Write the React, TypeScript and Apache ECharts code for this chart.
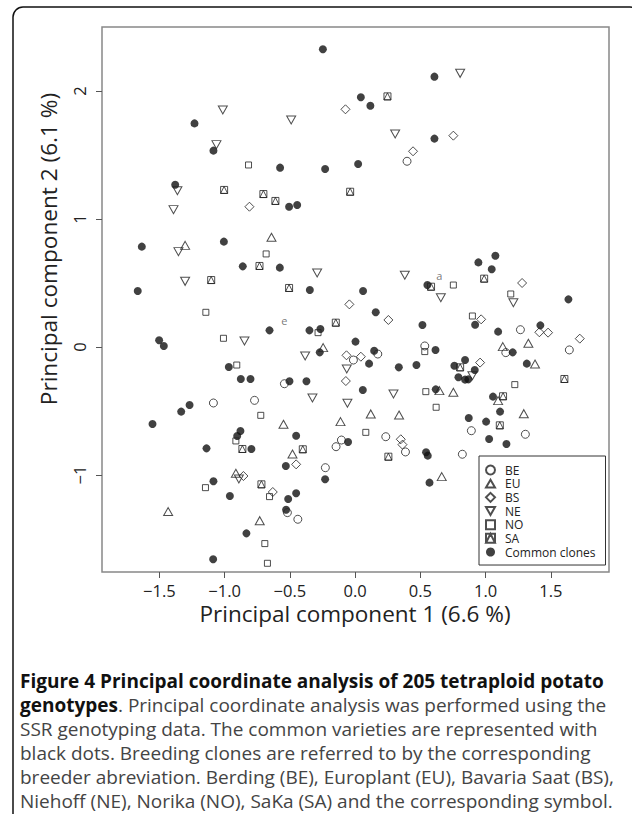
import React, { useEffect, useRef } from "react";
import * as echarts from "echarts";

type P = [number, number];

const xTicks = [-1.5, -1.0, -0.5, 0.0, 0.5, 1.0, 1.5];
const yTicks = [-1, 0, 1, 2];

const groupNames = ["BE", "EU", "BS", "NE", "NO", "SA", "Common clones"];

const beData: P[] = [
  [0.398, 1.451], [-0.542, -0.287], [-1.086, -0.4375], [-0.771, -0.417], [-0.105, -0.727],
  [-0.146, -0.779], [-0.228, -0.943], [-0.519, -1.294], [-0.439, -1.346], [1.267, 0.135],
  [1.642, -0.023], [0.534, 0.008], [1.155, -0.044], [0.174, -0.055], [-0.013, -0.102],
  [0.891, -0.654], [1.305, -0.682], [0.235, -0.701], [0.386, -0.82], [0.822, -0.838],
];
const euData: P[] = [
  [-1.303, 0.794], [-0.641, 0.857], [-0.245, -0.005], [-0.549, -0.604], [-0.112, -0.583],
  [-0.48, -0.836], [-0.914, -0.987], [-1.433, -1.286], [-0.731, -1.357], [1.132, 0.003],
  [1.328, 0.029], [1.379, -0.133], [0.646, -0.341], [0.753, -0.354], [1.096, -0.419],
  [0.12, -0.523], [0.337, -0.531], [1.293, -0.521], [0.664, -1.013],
];
const bsData: P[] = [
  [-0.074, 1.857], [0.753, 1.651], [0.444, 1.529], [-0.81, 1.096], [1.28, 0.5],
  [-0.044, 0.333], [-0.066, -0.065], [-0.071, -0.266], [-0.452, -0.917], [-0.856, -1.008],
  [-0.631, -1.133], [0.255, 0.211], [0.966, 0.216], [1.412, 0.115], [1.479, 0.112],
  [1.722, 0.065], [0.044, -0.076], [0.958, -0.122], [0.35, -0.721], [0.363, -0.763],
];
const neData: P[] = [
  [-1.014, 1.852], [-0.49, 1.773], [-1.063, 1.581], [-1.362, 1.221], [-1.392, 1.073],
  [-1.354, 0.745], [-0.291, 0.578], [-1.303, 0.513], [0.805, 2.138], [0.307, 1.664],
  [0.381, 0.56], [0.657, 0.385], [1.213, 0.346], [-0.848, 0.047], [-0.383, -0.07],
  [-0.064, -0.172], [-0.327, -0.398], [-0.059, -0.44], [-0.891, -1.031], [0.899, -0.224],
  [0.294, -0.367],
];
const noData: P[] = [
  [-0.817, 1.422], [-0.682, 0.727], [0.753, 0.484], [1.193, 0.414], [-1.144, 0.271],
  [-0.284, 0.112], [-1.009, 0.068], [-0.907, -0.141], [-0.723, -0.534], [-0.914, -0.734],
  [-1.147, -1.099], [-0.656, -1.169], [-0.692, -1.536], [-0.672, -1.69], [0.899, 0.242],
  [0.534, -0.036], [1.224, -0.294], [0.542, -0.349], [0.621, -0.471], [0.082, -0.667],
];
const saData: P[] = [
  [-1.004, 1.227], [-0.703, 1.195], [-0.611, 1.141], [-0.038, 1.213], [-0.733, 0.633],
  [-1.103, 0.523], [-0.506, 0.461], [0.248, 1.958], [0.989, 0.534], [0.582, 0.471],
  [-0.148, 0.19], [-0.864, -0.797], [-0.401, -0.799], [-0.718, -1.073], [0.805, -0.159],
  [1.604, -0.25], [1.134, -0.385], [1.109, -0.612], [0.255, -0.857],
];
const commonData: P[] = [
  [-0.247, 2.326], [-1.231, 1.747], [-1.086, 1.534], [-0.575, 1.401], [-0.23, 1.39],
  [-1.379, 1.268], [-0.506, 1.096], [-0.444, 1.109], [-1.635, 0.784], [-1.006, 0.823],
  [-0.861, 0.63], [-0.577, 0.62], [-0.347, 0.445], [-1.666, 0.4375], [0.608, 2.112],
  [0.044, 1.951], [0.117, 1.885], [0.608, 1.628], [0.023, 1.43], [1.075, 0.713],
  [0.945, 0.661], [1.047, 0.607], [0.554, 0.484], [0.061, 0.4375], [1.635, 0.372],
  [-0.656, 0.13], [-0.35, 0.13], [-0.266, 0.141], [-1.502, 0.052], [-1.466, 0.008],
  [-0.271, -0.042], [-0.968, -0.156], [-0.876, -0.25], [-0.802, -0.25], [-0.503, -0.268],
  [-0.373, -0.268], [-1.269, -0.453], [-1.333, -0.505], [-1.553, -0.602], [-0.879, -0.656],
  [-0.904, -0.695], [-0.452, -0.693], [-0.054, -0.742], [-1.139, -0.792], [-0.795, -0.797],
  [-0.531, -0.93], [-0.23, -1.034], [-1.086, -1.049], [-0.96, -1.164], [-0.452, -1.143],
  [-0.513, -1.188], [-0.529, -1.271], [-0.833, -1.456], [-1.088, -1.659], [0.158, 0.271],
  [0.516, 0.172], [0.92, 0.174], [1.096, 0.12], [1.42, 0.169], [0.003, 0.042],
  [0.616, -0.023], [1.208, -0.042], [0.146, -0.029], [0.107, -0.13], [0.335, -0.159],
  [0.47, -0.141], [0.761, -0.146], [0.843, -0.102], [0.917, -0.18], [0.792, -0.237],
  [0.843, -0.255], [0.868, -0.253], [1.316, -0.13], [0.059, -0.336], [0.618, -0.331],
  [1.057, -0.388], [1.111, -0.505], [0.871, -0.555], [1.004, -0.583], [1.027, -0.719],
  [1.16, -0.758], [0.544, -0.823], [0.557, -0.849], [0.57, -1.06],
];

const annotationLabels = ["a", "e"];
const annotationPoints: P[] = [[0.646, 0.557], [-0.542, 0.206]];

const xTitle = "Principal component 1 (6.6 %)";
const yTitle = "Principal component 2 (6.1 %)";

const captionLines: string[] = [
  "{b|Figure 4 Principal coordinate analysis of 205 tetraploid potato}",
  "{b|genotypes}. Principal coordinate analysis was performed using the",
  "SSR genotyping data. The common varieties are represented with",
  "black dots. Breeding clones are referred to by the corresponding",
  "breeder abreviation. Berding (BE), Europlant (EU), Bavaria Saat (BS),",
  "Niehoff (NE), Norika (NO), SaKa (SA) and the corresponding symbol.",
];

const fmtMinus = (v: number, d: number) => {
  const s = Math.abs(v).toFixed(d);
  return v < 0 ? "\u2212" + s : s;
};

export default function App() {
  const ref = useRef<HTMLDivElement>(null);
  useEffect(() => {
    if (!ref.current) return;
    const chart = echarts.init(ref.current, null, { renderer: "svg" });
    const ink = "#111";
    const open = (symbol: string, size: number | number[]) => ({
      symbol,
      symbolSize: size,
      itemStyle: { color: "rgba(0,0,0,0)", borderColor: "#222", borderWidth: 1 },
    });
    const triUp = "path://M5,0L10,8.66L0,8.66Z";
    const triDown = "path://M0,0L10,0L5,8.66Z";
    const saSym = "path://M0,0L10,0L10,10L0,10Z M5,0L10,10L0,10Z";
    const styles: any[] = [
      open("circle", 8),
      open(triUp, [9, 8]),
      open("diamond", [9, 9]),
      open(triDown, [9, 8]),
      open("rect", 6),
      open(saSym, 7),
      { symbol: "circle", symbolSize: 8, itemStyle: { color: ink } },
    ];
    const datasets = [beData, euData, bsData, neData, noData, saData, commonData];
    const series: any[] = datasets.map((d, i) => ({
      type: "scatter",
      name: groupNames[i],
      data: d,
      ...styles[i],
      emphasis: { disabled: true },
      z: i === 6 ? 2 : 3,
    }));
    series.push({
      type: "scatter",
      name: "annotations",
      data: annotationPoints.map((p, i) => ({ value: p, name: annotationLabels[i] })),
      symbolSize: 0,
      silent: true,
      label: {
        show: true,
        position: "inside",
        formatter: (p: any) => p.name,
        color: "#555",
        fontSize: 11,
        fontFamily: "Open Sans",
      },
    });

    const font = "Open Sans";
    const graphics: any[] = [
      {
        type: "rect",
        shape: { x: 13, y: 7, width: 627, height: 840, r: 10 },
        style: { fill: "none", stroke: "#111", lineWidth: 1.5 },
        silent: true,
      },
      {
        type: "text",
        x: 48,
        y: 249,
        rotation: Math.PI / 2,
        style: {
          text: yTitle,
          fontSize: 22.6,
          lineHeight: 22,
          fontFamily: font,
          fill: "#222",
          align: "center",
          verticalAlign: "middle",
        },
      },
      {
        type: "text",
        x: 355,
        y: 613,
        style: {
          text: xTitle,
          fontSize: 22.5,
          lineHeight: 22,
          fontFamily: font,
          fill: "#222",
          align: "center",
          verticalAlign: "middle",
        },
      },
    ];
    captionLines.forEach((line, i) => {
      graphics.push({
        type: "text",
        x: 20,
        y: 681 + i * 24,
        style: {
          text: line,
          fontSize: 19,
          fontFamily: font,
          fill: "#444",
          verticalAlign: "middle",
          rich: {
            b: { fontSize: 19, fontFamily: font, fontWeight: "bold", fill: "#111" },
          },
        },
      });
    });

    chart.setOption({
      animation: false,
      backgroundColor: "#fff",
      grid: {
        left: 102,
        right: 23,
        top: 27,
        bottom: 242,
        show: true,
        borderColor: "#888",
        borderWidth: 1.5,
        backgroundColor: "rgba(0,0,0,0)",
      },
      xAxis: {
        type: "value",
        min: -1.94,
        max: 1.946,
        axisLine: { show: false, onZero: false },
        splitLine: { show: false },
        axisTick: {
          show: true,
          inside: false,
          length: 6,
          customValues: xTicks,
          lineStyle: { color: "#555", width: 1 },
        },
        axisLabel: {
          customValues: xTicks,
          formatter: (v: number) => fmtMinus(v, 1),
          margin: 10,
          fontSize: 16.5,
          lineHeight: 16,
          fontFamily: font,
          color: "#222",
        },
      },
      yAxis: {
        type: "value",
        min: -1.758,
        max: 2.5,
        axisLine: { show: false, onZero: false },
        splitLine: { show: false },
        axisTick: {
          show: true,
          inside: false,
          length: 6,
          customValues: yTicks,
          lineStyle: { color: "#555", width: 1 },
        },
        axisLabel: {
          customValues: yTicks,
          rotate: 90,
          formatter: (v: number) => fmtMinus(v, 0),
          margin: 15,
          fontSize: 16.5,
          lineHeight: 16,
          fontFamily: font,
          color: "#222",
        },
      },
      legend: {
        data: groupNames,
        orient: "vertical",
        left: 479,
        top: 456,
        padding: [8, 10, 7, 6],
        itemWidth: 9,
        itemHeight: 9,
        itemGap: 1.67,
        borderColor: "#333",
        borderWidth: 1,
        selectedMode: false,
        textStyle: {
          fontSize: 12,
          fontFamily: font,
          color: "#222",
          padding: [0, 0, 0, 5],
        },
      },
      graphic: graphics,
      series,
    });
    return () => chart.dispose();
  }, []);
  return (
    <div
      ref={ref}
      style={{ position: "absolute", left: 0, top: 0, width: 632, height: 814 }}
    />
  );
}
